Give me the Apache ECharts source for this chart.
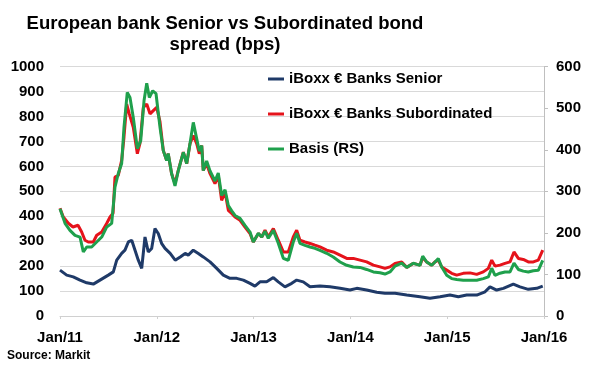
<!DOCTYPE html>
<html>
<head>
<meta charset="utf-8">
<script src="https://cdn.jsdelivr.net/npm/echarts@6/dist/echarts.min.js"></script>
<style>
html,body{margin:0;padding:0;background:#fff;}
#chart{width:590px;height:382px;}
</style>
</head>
<body>
<div id="chart"></div>
<script>
// ---- Data (decimal years, bps) ----
const yearTicks = ['Jan/11','Jan/12','Jan/13','Jan/14','Jan/15','Jan/16'];

const seniorDates = [2011.000,2011.069,2011.137,2011.207,2011.276,2011.344,2011.413,2011.499,2011.551,2011.586,
2011.637,2011.671,2011.706,2011.741,2011.775,2011.809,2011.844,2011.878,2011.912,2011.947,
2011.981,2012.015,2012.051,2012.085,2012.138,2012.190,2012.242,2012.293,2012.325,2012.377,
2012.429,2012.480,2012.550,2012.619,2012.687,2012.756,2012.825,2012.894,2012.963,2013.014,
2013.066,2013.135,2013.204,2013.255,2013.324,2013.394,2013.445,2013.513,2013.583,2013.686,
2013.789,2013.893,2013.996,2014.065,2014.168,2014.272,2014.357,2014.461,2014.582,2014.719,
2014.822,2014.926,2015.029,2015.115,2015.201,2015.305,2015.391,2015.442,2015.511,2015.580,
2015.683,2015.752,2015.838,2015.925,2015.987];
const seniorValues = [184,164,157,144,133,128,144,164,177,224,
251,264,297,304,264,224,191,317,257,271,
351,331,290,271,251,224,237,251,244,264,
251,237,217,191,164,151,151,144,131,120,
137,137,154,137,117,131,144,137,117,120,
117,111,104,111,104,95,91,91,84,77,
71,77,84,77,84,84,97,117,104,111,
128,117,107,111,120];

const subDates = [2011.000,2011.034,2011.086,2011.134,2011.186,2011.224,2011.258,2011.292,2011.344,2011.379,
2011.431,2011.482,2011.517,2011.548,2011.568,2011.602,2011.637,2011.661,2011.689,2011.716,
2011.757,2011.799,2011.826,2011.861,2011.896,2011.930,2011.964,2011.999,
2012.033,2012.067,2012.102,2012.118,2012.153,2012.188,2012.222,2012.274,2012.309,2012.343,
2012.377,2012.412,2012.439,2012.464,2012.480,2012.515,2012.550,2012.601,2012.635,2012.670,
2012.705,2012.739,2012.774,2012.808,2012.860,2012.911,2012.963,2012.997,
2013.049,2013.084,2013.118,2013.152,2013.204,2013.255,2013.307,2013.358,2013.410,2013.445,
2013.479,2013.531,2013.583,2013.634,2013.686,2013.755,2013.823,2013.893,2013.962,
2014.030,2014.099,2014.168,2014.237,2014.306,2014.357,2014.409,2014.461,2014.530,2014.582,
2014.650,2014.719,2014.747,2014.788,2014.840,2014.874,2014.908,2014.943,2014.995,
2015.046,2015.098,2015.166,2015.236,2015.305,2015.373,2015.425,2015.460,2015.494,2015.545,
2015.597,2015.649,2015.690,2015.735,2015.786,2015.838,2015.890,2015.941,2015.987];
const subValues = [432,397,372,357,364,337,304,297,297,324,
337,371,397,412,557,564,624,717,850,811,
757,651,692,837,850,811,824,837,
780,664,624,651,571,531,584,657,611,691,
724,691,651,684,584,611,571,531,564,464,
497,424,411,397,384,357,331,297,
331,317,344,317,351,304,257,257,317,344,
304,297,291,284,277,264,257,244,231,
231,224,217,204,197,191,197,211,217,195,
211,204,235,217,204,217,224,197,184,
171,164,171,173,167,177,191,224,200,204,
211,217,257,231,227,217,217,224,264];

const basisDates = [2011.000,2011.052,2011.103,2011.155,2011.207,2011.241,2011.276,2011.327,2011.379,2011.431,
2011.482,2011.534,2011.568,2011.602,2011.637,2011.661,2011.695,2011.723,2011.757,2011.799,
2011.834,2011.868,2011.896,2011.923,2011.958,2011.992,2012.033,2012.067,2012.102,2012.118,
2012.153,2012.188,2012.222,2012.274,2012.309,2012.343,2012.377,2012.412,2012.439,2012.464,
2012.480,2012.515,2012.550,2012.601,2012.635,2012.670,2012.705,2012.739,2012.774,2012.808,
2012.860,2012.911,2012.963,2012.997,2013.049,2013.084,2013.118,2013.152,2013.204,2013.255,
2013.307,2013.358,2013.410,2013.445,2013.479,2013.531,2013.583,2013.634,2013.686,2013.755,
2013.823,2013.893,2013.962,2014.030,2014.099,2014.168,2014.237,2014.306,2014.357,2014.409,
2014.461,2014.530,2014.582,2014.650,2014.719,2014.747,2014.788,2014.840,2014.874,2014.908,
2014.943,2014.995,2015.046,2015.098,2015.166,2015.236,2015.305,2015.373,2015.425,2015.460,
2015.494,2015.545,2015.597,2015.649,2015.690,2015.735,2015.786,2015.838,2015.890,2015.941,
2015.987];
const basisValues = [258,223,206,194,190,154,166,166,178,190,
214,223,310,343,367,454,538,526,478,403,
422,518,560,526,542,535,454,398,374,391,
343,313,350,394,367,415,466,427,397,410,
350,373,349,325,344,290,304,266,253,242,
235,218,202,178,199,190,204,187,206,175,
139,134,178,199,175,170,166,163,158,151,
142,130,122,118,117,112,106,104,101,106,
120,127,117,127,122,144,130,122,130,138,
118,98,90,88,86,86,86,90,94,115,
98,103,106,106,127,112,108,106,109,110,
134];

const seriesNames = ['iBoxx € Banks Senior','iBoxx € Banks Subordinated','Basis (RS)'];
const seriesColors = ['#1F3A68','#E5131B','#1FA04C'];

function zip(a, b){ const n = Math.min(a.length, b.length); const out=[]; for(let i=0;i<n;i++) out.push([a[i], b[i]]); return out; }

const FONT = '"Liberation Sans", Arial, sans-serif';
const chart = echarts.init(document.getElementById('chart'), null, {renderer:'canvas'});

chart.setOption({
  animation: false,
  backgroundColor: '#ffffff',
  title: {
    text: 'European bank Senior vs Subordinated bond\nspread (bps)',
    left: 220, top: 8, textAlign: 'center',
    textStyle: {fontFamily: FONT, fontSize: 18.5, fontWeight: 'bold', color: '#000', lineHeight: 21}
  },
  legend: {
    orient: 'vertical', left: 263, top: 66, itemGap: 19,
    itemWidth: 16, itemHeight: 3, icon: 'rect',
    textStyle: {fontFamily: FONT, fontSize: 15, fontWeight: 'bold', color: '#000', lineHeight: 16},
    data: seriesNames
  },
  grid: {left: 60, right: 46, top: 66.7, bottom: 66, containLabel: false},
  xAxis: {
    type: 'value', min: 2011, max: 2016, interval: 1,
    axisLine: {show: true, lineStyle: {color: '#D0D0D0', width: 1}},
    axisTick: {show: true, length: 3, lineStyle: {color: '#D0D0D0'}},
    splitLine: {show: false},
    axisLabel: {
      margin: 14, fontFamily: FONT, fontSize: 15, fontWeight: 'bold', color: '#000',
      formatter: v => yearTicks[Math.round(v - 2011)] || ''
    }
  },
  yAxis: [
    {
      type: 'value', min: 0, max: 1000, interval: 100,
      axisLine: {show: false}, axisTick: {show: false},
      splitLine: {show: true, lineStyle: {color: '#D9D9D9', width: 1}},
      axisLabel: {margin: 16, fontFamily: FONT, fontSize: 15, fontWeight: 'bold', color: '#000',
        formatter: v => String(v)}
    },
    {
      type: 'value', min: 0, max: 600, interval: 100, position: 'right',
      axisLine: {show: true, lineStyle: {color: '#BFBFBF', width: 1}},
      axisTick: {show: true, length: 4, lineStyle: {color: '#BFBFBF'}},
      splitLine: {show: false},
      axisLabel: {margin: 12, fontFamily: FONT, fontSize: 15, fontWeight: 'bold', color: '#000',
        formatter: v => String(v)}
    }
  ],
  graphic: [{
    type: 'text', left: 7, top: 350,
    style: {text: 'Source: Markit', fontFamily: FONT, fontSize: 12, fontWeight: 'bold', fill: '#000'}
  }],
  series: [
    {name: seriesNames[0], type: 'line', yAxisIndex: 0, data: zip(seniorDates, seniorValues),
     showSymbol: false, symbol: 'none', lineStyle: {width: 3, color: seriesColors[0]}, itemStyle: {color: seriesColors[0]}},
    {name: seriesNames[1], type: 'line', yAxisIndex: 0, data: zip(subDates, subValues),
     showSymbol: false, symbol: 'none', lineStyle: {width: 3, color: seriesColors[1]}, itemStyle: {color: seriesColors[1]}},
    {name: seriesNames[2], type: 'line', yAxisIndex: 1, data: zip(basisDates, basisValues),
     showSymbol: false, symbol: 'none', lineStyle: {width: 3, color: seriesColors[2]}, itemStyle: {color: seriesColors[2]}}
  ]
});
</script>
</body>
</html>
